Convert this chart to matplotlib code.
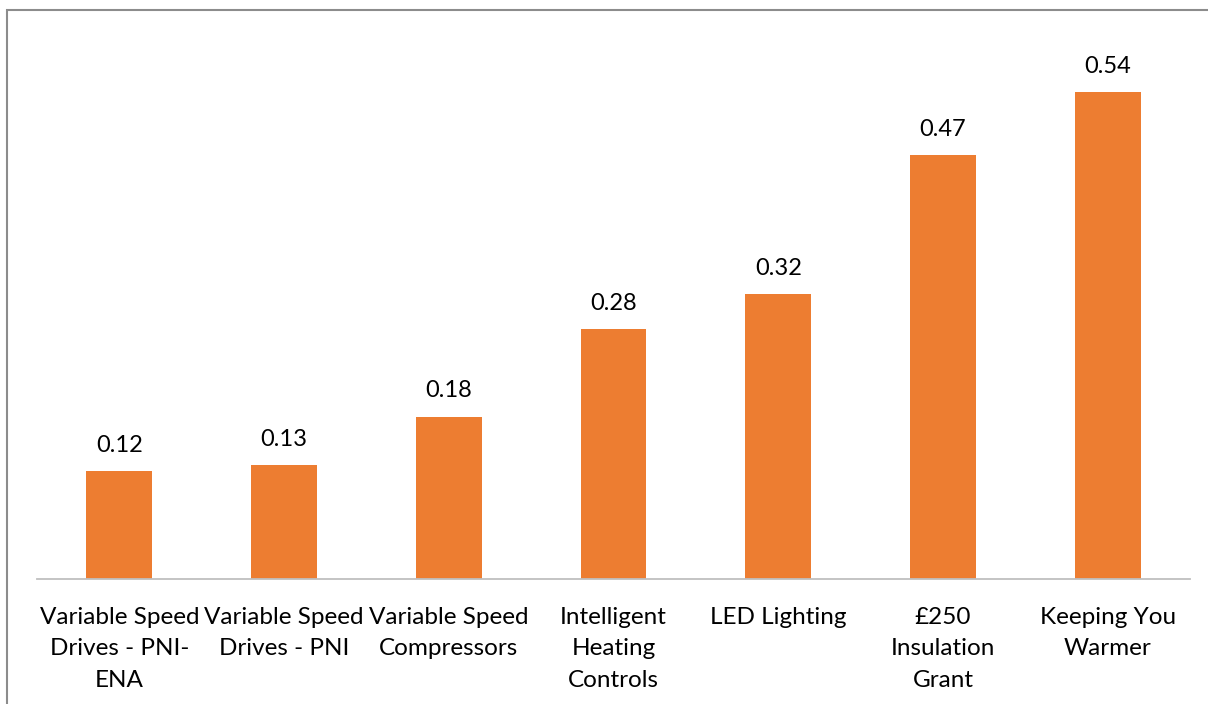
import matplotlib.pyplot as plt
from matplotlib.patches import Rectangle

categories = [
    "Variable Speed\nDrives - PNI-\nENA",
    "Variable Speed\nDrives - PNI",
    "Variable Speed\nCompressors",
    "Intelligent\nHeating\nControls",
    "LED Lighting",
    "£250\nInsulation\nGrant",
    "Keeping You\nWarmer",
]
values = [0.12, 0.126, 0.18, 0.277, 0.316, 0.47, 0.54]

plt.rcParams["font.family"] = ["Lato", "DejaVu Sans"]

fig = plt.figure(figsize=(12.08, 7.04), dpi=100)
ax = fig.add_axes([37 / 1208, 125 / 704, 1153 / 1208, 541 / 704])

x = range(len(values))
ax.bar(x, values, width=0.4, color="#ED7D31")
for xi, v in zip(x, values):
    ax.annotate(f"{v:.2f}", (xi, v), xytext=(0, 11), textcoords="offset points",
                ha="center", va="bottom", fontsize=17, color="black")

ax.set_xlim(-0.5, len(values) - 0.5)
ax.set_ylim(0, 0.6)
ax.set_xticks(list(x))
ax.set_xticklabels(categories, fontsize=17.5, linespacing=1.62)
ax.tick_params(axis="x", length=0, pad=20)
ax.set_yticks([])
for s in ["top", "right", "left"]:
    ax.spines[s].set_visible(False)
ax.spines["bottom"].set_color("#BFBFBF")
ax.spines["bottom"].set_linewidth(1.3)

# outer chart frame
fig.patches.append(Rectangle((7.5 / 1208, -0.1), 1.2, 1 - 9.5 / 704 + 0.1,
                             transform=fig.transFigure, fill=False,
                             edgecolor="#8C8C8C", linewidth=1.5))

fig.savefig("out.png", dpi=100)
